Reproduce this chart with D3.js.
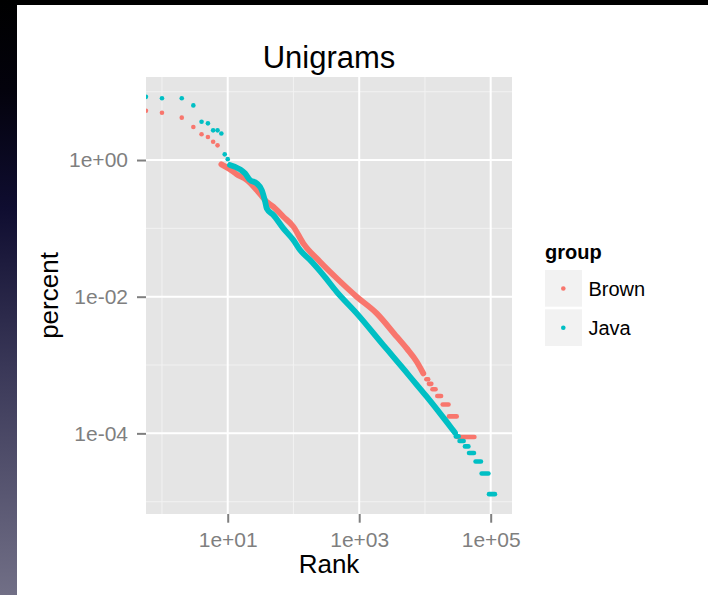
<!DOCTYPE html>
<html>
<head>
<meta charset="utf-8">
<script src="https://cdn.jsdelivr.net/npm/d3@7"></script>
<style>
  body { margin: 0; background: #fff; }
  text { font-family: "Liberation Sans", Arial, Helvetica, sans-serif; }
</style>
</head>
<body>
<svg id="chart" width="708" height="595"></svg>
<script>
// ---- data (rank, percent) ----
// top-ranked words, drawn as single dots
var brownHeadRank = [0.57, 1, 2, 3, 4, 5, 6, 7];
var brownHeadPct  = [5.27, 4.93, 4.17, 3.04, 2.38, 2.17, 1.85, 1.64];
var javaHeadRank  = [0.57, 1, 2, 3, 4, 5, 6, 7, 8, 9, 10];
var javaHeadPct   = [8.4, 8.0, 8.0, 6.3, 3.63, 3.44, 2.72, 2.72, 2.45, 1.21, 1.03];

// dense middle part, where the dots overlap into a thick band
var brownBodyRank = [8, 10.8, 13.7, 19.5, 27.6, 39.2, 49.4, 70.2, 99.6, 141, 253, 455, 916, 1846, 3717, 5277, 7500, 9440];
var brownBodyPct  = [0.865, 0.731, 0.618, 0.51, 0.364, 0.245, 0.207, 0.148, 0.106, 0.0604, 0.0325, 0.0186, 0.0100, 0.00571, 0.00260, 0.00175, 0.00112, 0.000755];
var javaBodyRank  = [10.8, 15.4, 18.3, 21.8, 27.6, 32.9, 36.9, 39.2, 49.4, 70.2, 99.6, 126, 179, 285, 455, 916, 2328, 3304, 5929, 10640, 16960, 25530, 28640];
var javaBodyPct   = [0.845, 0.731, 0.639, 0.51, 0.456, 0.364, 0.251, 0.196, 0.157, 0.1, 0.0675, 0.0482, 0.0344, 0.0207, 0.0118, 0.00571, 0.00196, 0.00132, 0.000674, 0.000344, 0.000196, 0.000118, 0.000102];

// rare words: runs of equal frequency (first rank, last rank, percent)
var brownTailFrom = [10500, 11500, 13000, 15400, 18600, 23200, 31000];
var brownTailTo   = [11200, 12500, 14500, 17600, 22800, 30400, 56500];
var brownTailPct  = [6.18e-4, 5.30e-4, 4.42e-4, 3.53e-4, 2.65e-4, 1.77e-4, 8.83e-5];
var javaTailFrom  = [29500, 33600, 40600, 46800, 58900, 72800, 94200];
var javaTailTo    = [32500, 38800, 45800, 55700, 71100, 92300, 116000];
var javaTailPct   = [9.03e-5, 7.74e-5, 6.45e-5, 5.16e-5, 3.87e-5, 2.58e-5, 1.29e-5];

var groups = ["Brown", "Java"];
var groupColors = ["#F8766D", "#00BFC4"];

var xTicks = [10, 1000, 100000];
var xTickLabels = ["1e+01", "1e+03", "1e+05"];
var xMinor = [1, 100, 10000];
var yTicks = [1, 0.01, 0.0001];
var yTickLabels = ["1e+00", "1e-02", "1e-04"];
var yMinor = [10, 0.1, 0.001, 0.00001];

// ---- layout ----
var panel = {left: 146, right: 512, top: 77, bottom: 514};
var dotR = 2.3;
var bandWidth = 5.8;   // overlapping dots look a bit wider than one dot

var svg = d3.select("#chart");

// slide background: black top edge and a dark gradient strip on the left
var defs = svg.append("defs");
var grad = defs.append("linearGradient")
    .attr("id", "strip").attr("x1", 0).attr("y1", 0).attr("x2", 0).attr("y2", 1);
[["0%", "#000000"], ["15%", "#03020c"], ["35%", "#0f0d30"], ["62%", "#3a3858"], ["100%", "#716f86"]]
    .forEach(function(s) { grad.append("stop").attr("offset", s[0]).attr("stop-color", s[1]); });
defs.append("clipPath").attr("id", "clip")
  .append("rect")
    .attr("x", panel.left).attr("y", panel.top)
    .attr("width", panel.right - panel.left).attr("height", panel.bottom - panel.top);

svg.append("rect").attr("width", 708).attr("height", 595).attr("fill", "#fff");
svg.append("rect").attr("width", 708).attr("height", 5).attr("fill", "#000");
svg.append("rect").attr("width", 17).attr("height", 595).attr("fill", "url(#strip)");

// scales (log10 on both axes)
var x = d3.scaleLog()
    .domain([Math.pow(10, -0.243), Math.pow(10, 5.324)])
    .range([panel.left, panel.right]);
var y = d3.scaleLog()
    .domain([Math.pow(10, -5.18), Math.pow(10, 1.215)])
    .range([panel.bottom, panel.top]);

// panel + grid
svg.append("rect")
    .attr("x", panel.left).attr("y", panel.top)
    .attr("width", panel.right - panel.left).attr("height", panel.bottom - panel.top)
    .attr("fill", "#E5E5E5");

var grid = svg.append("g");
grid.selectAll(".vminor").data(xMinor).enter().append("line")
    .attr("x1", d => x(d)).attr("x2", d => x(d))
    .attr("y1", panel.top).attr("y2", panel.bottom)
    .attr("stroke", "#F2F2F2").attr("stroke-width", 1);
grid.selectAll(".hminor").data(yMinor).enter().append("line")
    .attr("y1", d => y(d)).attr("y2", d => y(d))
    .attr("x1", panel.left).attr("x2", panel.right)
    .attr("stroke", "#F2F2F2").attr("stroke-width", 1);
grid.selectAll(".vmajor").data(xTicks).enter().append("line")
    .attr("x1", d => x(d)).attr("x2", d => x(d))
    .attr("y1", panel.top).attr("y2", panel.bottom)
    .attr("stroke", "#fff").attr("stroke-width", 2);
grid.selectAll(".hmajor").data(yTicks).enter().append("line")
    .attr("y1", d => y(d)).attr("y2", d => y(d))
    .attr("x1", panel.left).attr("x2", panel.right)
    .attr("stroke", "#fff").attr("stroke-width", 2);

// ---- points ----
var series = [
    {head: [brownHeadRank, brownHeadPct], body: [brownBodyRank, brownBodyPct], tail: [brownTailFrom, brownTailTo, brownTailPct]},
    {head: [javaHeadRank, javaHeadPct], body: [javaBodyRank, javaBodyPct], tail: [javaTailFrom, javaTailTo, javaTailPct]}
];

var plot = svg.append("g").attr("clip-path", "url(#clip)");
var line = d3.line().x(d => x(d[0])).y(d => y(d[1])).curve(d3.curveMonotoneX);

series.forEach(function(s, i) {
    var col = groupColors[i];
    var g = plot.append("g").attr("class", groups[i]);

    // band of overlapping dots
    var body = s.body[0].map((r, k) => [r, s.body[1][k]]);
    g.append("path")
        .attr("d", line(body))
        .attr("fill", "none").attr("stroke", col)
        .attr("stroke-width", bandWidth)
        .attr("stroke-linecap", "round").attr("stroke-linejoin", "round");

    // equal-frequency runs in the tail
    var tail = s.tail[0].map((r, k) => [r, s.tail[1][k], s.tail[2][k]]);
    g.selectAll(".run").data(tail).enter().append("line")
        .attr("x1", d => x(d[0])).attr("x2", d => x(d[1]))
        .attr("y1", d => y(d[2])).attr("y2", d => y(d[2]))
        .attr("stroke", col).attr("stroke-width", dotR * 2)
        .attr("stroke-linecap", "round");

    // single dots for the most frequent words
    var head = s.head[0].map((r, k) => [r, s.head[1][k]]);
    g.selectAll(".dot").data(head).enter().append("circle")
        .attr("cx", d => x(d[0])).attr("cy", d => y(d[1]))
        .attr("r", dotR).attr("fill", col);
});

// ---- axes ----
var xAxis = svg.append("g")
    .attr("transform", "translate(0," + panel.bottom + ")")
    .call(d3.axisBottom(x).tickValues(xTicks)
        .tickFormat((d, k) => xTickLabels[k]).tickSize(8.7).tickPadding(9));
var yAxis = svg.append("g")
    .attr("transform", "translate(" + panel.left + ",0)")
    .call(d3.axisLeft(y).tickValues(yTicks)
        .tickFormat((d, k) => yTickLabels[k]).tickSize(9).tickPadding(9));

[xAxis, yAxis].forEach(function(a) {
    a.select(".domain").remove();
    a.selectAll(".tick line").attr("stroke", "#7F7F7F").attr("stroke-width", 2);
    a.selectAll(".tick text")
        .attr("fill", "#7F7F7F")
        .style("font-size", "21px")
        .style("font-family", "'Liberation Sans', Arial, Helvetica, sans-serif");
});

// ---- titles ----
svg.append("text")
    .attr("x", (panel.left + panel.right) / 2).attr("y", 67.5)
    .attr("text-anchor", "middle")
    .style("font-size", "31px")
    .text("Unigrams");

svg.append("text")
    .attr("x", (panel.left + panel.right) / 2).attr("y", 573)
    .attr("text-anchor", "middle")
    .style("font-size", "26px")
    .text("Rank");

svg.append("text")
    .attr("transform", "translate(58," + ((panel.top + panel.bottom) / 2) + ") rotate(-90)")
    .attr("text-anchor", "middle")
    .style("font-size", "26px")
    .text("percent");

// ---- legend ----
var legend = svg.append("g").attr("transform", "translate(545,0)");
legend.append("text")
    .attr("x", 0).attr("y", 259)
    .style("font-size", "20px").style("font-weight", "bold")
    .text("group");

var keyY = [270, 309.3];
var item = legend.selectAll(".key").data(groups).enter().append("g")
    .attr("transform", (d, k) => "translate(0," + keyY[k] + ")");
item.append("rect")
    .attr("width", 37).attr("height", 36.7)
    .attr("fill", "#F2F2F2");
item.append("circle")
    .attr("cx", 18.3).attr("cy", 18.5).attr("r", dotR)
    .attr("fill", (d, k) => groupColors[k]);
item.append("text")
    .attr("x", 43.5).attr("y", 25.5)
    .style("font-size", "20px")
    .text(d => d);
</script>
</body>
</html>
